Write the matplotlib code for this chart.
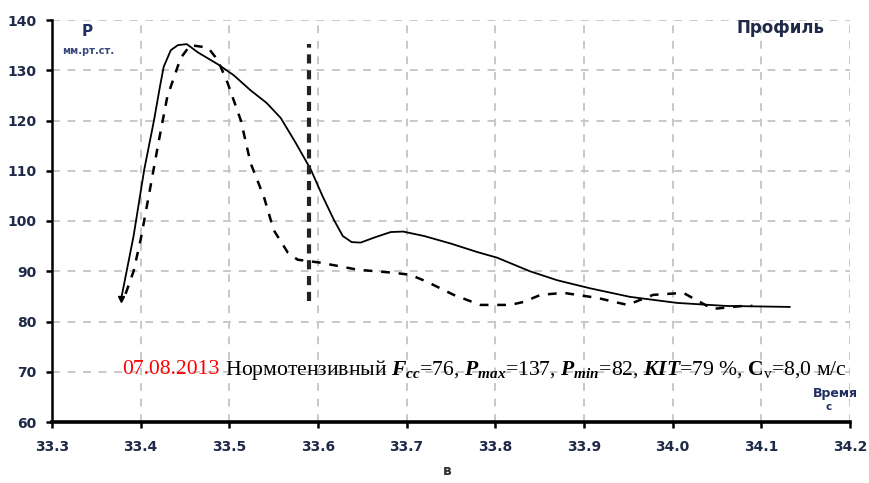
import matplotlib
matplotlib.use("Agg")
import matplotlib.pyplot as plt

# ---- data ----
solid_x = [33.378, 33.392, 33.404, 33.415, 33.422, 33.426, 33.434, 33.442, 33.452, 33.465,
           33.487, 33.505, 33.524, 33.542, 33.558, 33.575, 33.592, 33.605, 33.618, 33.628,
           33.638, 33.648, 33.665, 33.682, 33.696, 33.720, 33.750, 33.780, 33.802, 33.839,
           33.870, 33.907, 33.952, 34.005, 34.060, 34.132]
solid_y = [84.5, 97.0, 110.2, 120.0, 127.0, 130.7, 134.0, 135.0, 135.2, 133.5,
           131.2, 129.0, 126.0, 123.5, 120.5, 115.5, 110.2, 105.0, 100.2, 97.0,
           95.8, 95.7, 96.8, 97.8, 97.9, 97.0, 95.5, 93.8, 92.7, 90.0,
           88.2, 86.6, 84.9, 83.7, 83.1, 82.9]

dash_x = [33.383, 33.392, 33.400, 33.411, 33.420, 33.430, 33.445, 33.456, 33.476, 33.487,
          33.498, 33.513, 33.524, 33.539, 33.550, 33.566, 33.577, 33.603, 33.645, 33.685,
          33.704, 33.723, 33.753, 33.783, 33.817, 33.832, 33.851, 33.877, 33.915, 33.949,
          33.978, 34.012, 34.045, 34.079, 34.090]
dash_y = [85.5, 90.0, 96.3, 106.8, 115.5, 124.7, 132.4, 135.0, 134.5, 132.0,
          127.5, 120.0, 111.5, 104.8, 98.2, 93.7, 92.3, 91.7, 90.3, 89.7,
          89.3, 87.9, 85.3, 83.3, 83.3, 83.9, 85.3, 85.7, 84.7, 83.3,
          85.3, 85.7, 82.5, 83.1, 83.1]

marker_x = 33.59
marker_y = [84.0, 135.2]

x_ticks = [33.3, 33.4, 33.5, 33.6, 33.7, 33.8, 33.9, 34.0, 34.1, 34.2]
x_labels = ["33.3", "33.4", "33.5", "33.6", "33.7", "33.8", "33.9", "34.0", "34.1", "34.2"]
y_ticks = [60, 70, 80, 90, 100, 110, 120, 130, 140]

plt.rcParams['mathtext.fontset'] = 'custom'
plt.rcParams['mathtext.rm'] = 'Liberation Serif'
plt.rcParams['mathtext.it'] = 'Liberation Serif:italic'
plt.rcParams['mathtext.bf'] = 'Liberation Serif:bold'
plt.rcParams['mathtext.bfit'] = 'Liberation Serif:bold:italic'

fig = plt.figure(figsize=(8.69, 4.83), dpi=100)
ax = fig.add_axes([52/869, 1 - 422/483, (850-52)/869, (422-20)/483])

ax.set_xlim(33.3, 34.2)
ax.set_ylim(60, 140)

ax.grid(True, color="#c8c8c8", linestyle=(0, (4, 4)), linewidth=1.4)
ax.set_axisbelow(True)

ax.plot(solid_x, solid_y, color="black", linewidth=1.3, zorder=3)
ax.plot(solid_x[:1], solid_y[:1], marker="v", color="black", markersize=5, zorder=3)
ax.plot(dash_x, dash_y, color="black", linewidth=1.8, linestyle=(0, (3.5, 3.5)), zorder=3)
ax.plot([marker_x, marker_x], marker_y, color="#222222", linewidth=3.0,
        linestyle=(0, (2.2, 1.6)), zorder=3)

for s in ["top", "right"]:
    ax.spines[s].set_visible(False)
ax.spines["left"].set_linewidth(1.8)
ax.spines["bottom"].set_linewidth(2.6)

tick_color = "#1f2a48"
ax.set_xticks(x_ticks)
ax.set_xticklabels(x_labels)
ax.set_yticks(y_ticks)
ax.tick_params(axis="both", length=4, width=1.8, color="black",
               labelcolor=tick_color, labelsize=10)
ax.tick_params(axis="x", pad=9)
ax.tick_params(axis="y", pad=7)
for lab in ax.get_xticklabels() + ax.get_yticklabels():
    lab.set_fontweight("bold")
    lab.set_fontfamily("DejaVu Sans")

# axis labels inside plot
fig.text(87/869, 1 - 31/483, "Р", ha="center", va="center", fontsize=11,
         fontweight="bold", color="#1f3060", family="DejaVu Sans")
fig.text(88/869, 1 - 51/483, "мм.рт.ст.", ha="center", va="center", fontsize=7,
         fontweight="bold", color="#3a4a7a", family="DejaVu Sans")
fig.text(781/869, 1 - 28/483, "Профиль", ha="center", va="center", fontsize=12,
         fontweight="bold", color="#1f2a48", family="DejaVu Sans")
fig.text(835/869, 1 - 393/483, "Время", ha="center", va="center", fontsize=9,
         fontweight="bold", color="#1f3060", family="DejaVu Sans")
fig.text(829/869, 1 - 407/483, "с", ha="center", va="center", fontsize=7.5,
         fontweight="bold", color="#1f3060", family="DejaVu Sans")
fig.text(447/869, 1 - 471/483, "в", ha="center", va="center", fontsize=10,
         fontweight="bold", color="#333333", family="DejaVu Sans")

# annotation
t1 = fig.text(122/869, 1 - 370/483, "07.08.2013", ha="left", va="center",
              fontsize=15.6, color="red", family="Liberation Serif")
rest = (" Нормотензивный $\\mathbfit{F}_{\\mathbfit{cc}}$=76, "
        "$\\mathbfit{P}_{\\mathbfit{max}}$=137, "
        "$\\mathbfit{P}_{\\mathbfit{min}}$=82, "
        "$\\mathbfit{KIT}$=79 %, $\\mathbf{C}_{\\mathrm{v}}$=8,0 м/с")
ax.annotate(rest, xy=(1, 0.5), xycoords=t1, ha="left", va="center",
            fontsize=15.6, color="black", family="Liberation Serif",
            annotation_clip=False)

fig.savefig("out.png", dpi=100)
